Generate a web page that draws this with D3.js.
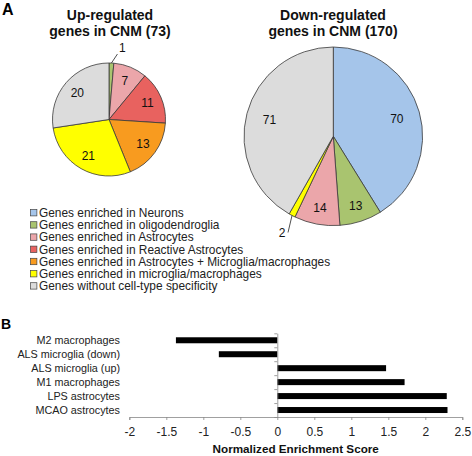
<!DOCTYPE html>
<html>
<head>
<meta charset="utf-8">
<script src="https://cdn.jsdelivr.net/npm/d3@7"></script>
<style>
  html, body { margin: 0; padding: 0; background: #fff; }
  svg { display: block; font-family: "Liberation Sans", Arial, sans-serif; }
</style>
</head>
<body>
<svg id="chart" width="472" height="456"></svg>
<script>
// ---------- DATA ----------
const cellTypes = [
  "Genes enriched in Neurons",
  "Genes enriched in oligodendroglia",
  "Genes enriched in Astrocytes",
  "Genes enriched in Reactive Astrocytes",
  "Genes enriched in Astrocytes + Microglia/macrophages",
  "Genes enriched in microglia/macrophages",
  "Genes without cell-type specificity"
];
const cellColors = ["#a5c5ea", "#a9c46f", "#eba6aa", "#e8625f", "#f89b1f", "#ffff00", "#dcdcdc"];
const upValues = [0, 1, 7, 11, 13, 21, 20];
const downValues = [70, 13, 14, 0, 0, 2, 71];
const upTitle = ["Up-regulated", "genes in CNM (73)"];
const downTitle = ["Down-regulated", "genes in CNM (170)"];

const gseaSets = ["M2 macrophages", "ALS microglia (down)", "ALS microglia (up)", "M1 macrophages", "LPS astrocytes", "MCAO astrocytes"];
const gseaNES = [-1.37, -0.79, 1.47, 1.72, 2.29, 2.30];
const xTicks = [-2, -1.5, -1, -0.5, 0, 0.5, 1, 1.5, 2, 2.5];
const xTickLabels = ["-2", "-1.5", "-1", "-0.5", "0", "0.5", "1", "1.5", "2", "2.5"];

// ---------- DRAW ----------
const svg = d3.select("#chart");

// panel letters
svg.append("text").attr("x", 2).attr("y", 15).attr("font-size", 16).attr("font-weight", "bold").text("A");
svg.append("text").attr("x", 1).attr("y", 329).attr("font-size", 14).attr("font-weight", "bold").text("B");

function drawPie(values, title, cx, cy, R, titleX, outside) {
  const total = d3.sum(values);
  const pie = d3.pie().sort(null).value(d => d)(values);
  const arc = d3.arc().innerRadius(0).outerRadius(R);
  const g = svg.append("g").attr("transform", `translate(${cx},${cy})`);
  g.selectAll("path").data(pie.filter(d => d.value > 0)).join("path")
    .attr("d", arc)
    .attr("fill", d => cellColors[d.index])
    .attr("stroke", "#3a3a3a")
    .attr("stroke-width", 0.8);

  // inside labels
  pie.filter(d => d.value > 2).forEach(d => {
    const frac = d.value / total;
    const k = frac < 0.09 ? 0.815 : 0.74;
    const la = d3.arc().innerRadius(R * k).outerRadius(R * k);
    const [lx, ly] = la.centroid(d);
    g.append("text").attr("x", lx).attr("y", ly).attr("dy", "0.36em")
      .attr("text-anchor", "middle").attr("font-size", 12).attr("fill", "#111")
      .text(d.value);
  });

  // outside labels with leader lines
  pie.filter(d => d.value > 0 && d.value <= 2).forEach(d => {
    const o = outside;
    const ea = d3.arc().innerRadius(R).outerRadius(R);
    const [sx, sy] = ea.centroid(d);
    const ex = sx + o.dx, ey = sy + o.dy;
    g.append("line").attr("x1", sx).attr("y1", sy).attr("x2", ex).attr("y2", ey)
      .attr("stroke", "#222").attr("stroke-width", 0.8);
    g.append("text").attr("x", ex + o.tx).attr("y", ey + o.ty).attr("dy", "0.36em")
      .attr("text-anchor", "middle").attr("font-size", 12).attr("fill", "#111")
      .text(d.value);
  });

  // title
  title.forEach((t, i) => {
    svg.append("text").attr("x", titleX).attr("y", 20 + i * 16)
      .attr("text-anchor", "middle").attr("font-size", 14).attr("font-weight", "bold")
      .attr("fill", "#111").text(t);
  });
}

drawPie(upValues, upTitle, 109, 119.5, 56.5, 110, {dx: 6, dy: -9, tx: 5, ty: -6});
drawPie(downValues, downTitle, 333.3, 136.3, 89.3, 333, {dx: -4, dy: 17, tx: -6, ty: 0});

// legend
const legend = svg.append("g");
const ly = d3.scalePoint().domain(cellTypes).range([212.7, 212.7 + 6 * 12.2]);
cellTypes.forEach((c, i) => {
  legend.append("rect").attr("x", 30.5).attr("y", ly(c) - 3.2).attr("width", 6.4).attr("height", 6.4)
    .attr("fill", cellColors[i]).attr("stroke", "#444").attr("stroke-width", 0.7);
  legend.append("text").attr("x", 39).attr("y", ly(c)).attr("dy", "0.36em")
    .attr("font-size", 11.9).attr("fill", "#222").text(c);
});

// ---------- Bar chart B ----------
const x = d3.scaleLinear().domain([-2, 2.5]).range([129.3, 462.3]);
const y = d3.scaleBand().domain(gseaSets).range([333.3, 417]).paddingInner(0).paddingOuter(0);
const barH = y.bandwidth() * 0.43;

svg.append("g").selectAll("rect").data(gseaSets).join("rect")
  .attr("x", (d, i) => x(Math.min(0, gseaNES[i])))
  .attr("width", (d, i) => Math.abs(x(gseaNES[i]) - x(0)))
  .attr("y", d => y(d) + y.bandwidth() / 2 - barH / 2)
  .attr("height", barH)
  .attr("fill", "#000");

// x axis
const xAxis = svg.append("g").attr("transform", `translate(0,${y.range()[1]})`)
  .call(d3.axisBottom(x).tickValues(xTicks).tickFormat((d, i) => xTickLabels[i]).tickSize(3).tickPadding(7.5));
xAxis.select(".domain").attr("stroke", "#888").attr("stroke-width", 0.8);
xAxis.selectAll(".tick line").attr("stroke", "#888").attr("stroke-width", 0.8);
xAxis.selectAll(".tick text").attr("font-size", 12).attr("fill", "#222")
  .attr("font-family", "Liberation Sans, Arial, sans-serif");

// y axis on zero line, ticks at band boundaries
const yb = d3.scaleLinear().domain([0, gseaSets.length]).range(y.range());
const yAxis = svg.append("g").attr("transform", `translate(${x(0)},0)`)
  .call(d3.axisLeft(yb).tickValues(d3.range(gseaSets.length + 1)).tickFormat("").tickSize(3).tickSizeOuter(0));
yAxis.select(".domain").attr("stroke", "#888").attr("stroke-width", 0.8);
yAxis.selectAll(".tick line").attr("stroke", "#888").attr("stroke-width", 0.8);

// category labels
svg.append("g").selectAll("text").data(gseaSets).join("text")
  .attr("x", 120).attr("y", d => y(d) + y.bandwidth() / 2).attr("dy", "0.36em")
  .attr("text-anchor", "end").attr("font-size", 10.8).attr("fill", "#222").text(d => d);

// axis title
svg.append("text").attr("x", 295.7).attr("y", 453)
  .attr("text-anchor", "middle").attr("font-size", 11.7).attr("font-weight", "bold")
  .attr("fill", "#111").text("Normalized Enrichment Score");
</script>
</body>
</html>
